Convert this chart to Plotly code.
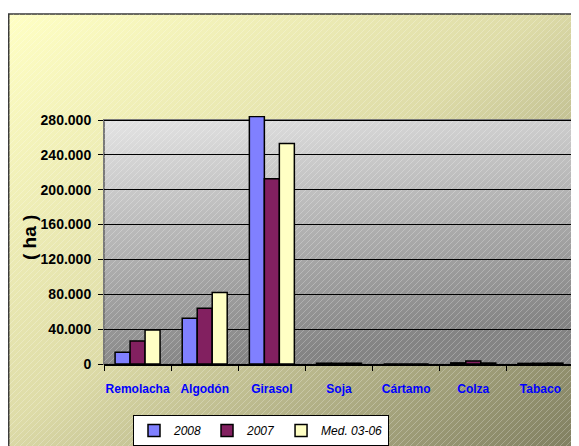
import base64
import plotly.graph_objects as go

categories = ["Remolacha", "Algodón", "Girasol", "Soja", "Cártamo", "Colza", "Tabaco"]
series_names = ["2008", "2007", "Med. 03-06"]
v2008 = [13500, 52500, 284000, 900, 0, 1300, 700]
v2007 = [26500, 64000, 212500, 800, 0, 3500, 800]
vmed = [39000, 82000, 253000, 900, 0, 1100, 1000]
colors = ["#8080FF", "#822060", "#FFFFC4"]
yticks = [0, 40000, 80000, 120000, 160000, 200000, 240000, 280000]

# page body has an 8px margin, so the figure is laid out in (page px - 8)
OFF = 8
W, H = 579 - OFF, 446 - OFF
L, T = 104 - OFF, 116 - OFF
R = W - (574 - OFF)
B = H - (364 - OFF)
PW, PH = W - L - R, H - T - B
ymax = 280000 * PH / 244.0

px0, py0 = 104 - OFF, 120 - OFF
svg = f'''<svg xmlns="http://www.w3.org/2000/svg" width="{W}" height="{H}" viewBox="0 0 {W} {H}" preserveAspectRatio="none">
<defs>
<linearGradient id="ca" x1="0" y1="0" x2="1" y2="1">
<stop offset="0" stop-color="#FFFFC4"/><stop offset="0.45" stop-color="#DEDCA8"/><stop offset="1" stop-color="#77765A"/>
</linearGradient>
<linearGradient id="pa" x1="0" y1="0" x2="0.25" y2="1">
<stop offset="0" stop-color="#E4E4E4"/><stop offset="1" stop-color="#848484"/>
</linearGradient>
<pattern id="h" width="6" height="6" patternUnits="userSpaceOnUse">
<path d="M-1,7 L7,-1" stroke="#ffffff" stroke-opacity="0.35" stroke-width="0.7"/>
</pattern>
</defs>
<rect x="0.75" y="{14 - OFF}" width="{W + 20}" height="{H + 20}" fill="url(#ca)" stroke="#3a3a3a" stroke-width="1.5"/>
<rect x="0.75" y="{14 - OFF}" width="{W + 20}" height="{H + 20}" fill="url(#h)"/>
<rect x="{px0}" y="{py0}" width="470" height="244" fill="url(#pa)" stroke="#7a7a7a" stroke-width="2"/>
<rect x="{px0}" y="{py0}" width="470" height="244" fill="url(#h)"/>
</svg>'''
src = "data:image/svg+xml;base64," + base64.b64encode(svg.encode()).decode()

FONT = "Arial, Liberation Sans, sans-serif"

fig = go.Figure()
for name, vals, c in zip(series_names, [v2008, v2007, vmed], colors):
    fig.add_trace(go.Bar(
        x=categories, y=vals, name=name,
        marker=dict(color=c, line=dict(color="black", width=1.5)),
    ))

fig.update_layout(
    width=W, height=H,
    margin=dict(l=L, r=R, t=T, b=B, autoexpand=False),
    paper_bgcolor="white",
    plot_bgcolor="rgba(0,0,0,0)",
    separators=",.",
    barmode="group",
    bargap=0.33,
    bargroupgap=0,
    showlegend=True,
    legend=dict(
        orientation="h",
        x=(133 - 104) / PW, xanchor="left",
        y=1 - (415 - 116) / PH, yanchor="top",
        bgcolor="white", bordercolor="black", borderwidth=1,
        font=dict(family=FONT, size=12, color="black", style="italic"),
        itemwidth=30,
        traceorder="normal",
    ),
    images=[dict(
        source=src, xref="paper", yref="paper",
        x=-L / PW, y=1 + T / PH, sizex=W / PW, sizey=H / PH,
        xanchor="left", yanchor="top", sizing="stretch", layer="below",
    )],
    annotations=[dict(
        text="( ha )", xref="paper", yref="paper",
        x=(29 - 104) / PW, y=1 - (238 - 116) / PH,
        xanchor="center", yanchor="middle",
        showarrow=False, textangle=-90,
        font=dict(family=FONT, size=19, color="black", weight="bold"),
    )],
)

fig.update_xaxes(
    type="category",
    showline=True, linecolor="black", linewidth=1.5,
    ticks="outside", tickson="boundaries", ticklen=5, tickcolor="black", tickwidth=1,
    tickangle=0,
    tickfont=dict(family=FONT, size=12, color="#0000FF", weight="bold"),
    ticklabelstandoff=13,
    showgrid=False,
)
fig.update_yaxes(
    range=[0, ymax],
    tickvals=yticks,
    tickformat=",d",
    showgrid=True, gridcolor="black", gridwidth=1,
    zeroline=False, showline=False,
    ticks="outside", ticklen=5, tickcolor="black", tickwidth=1,
    ticklabelstandoff=4,
    tickfont=dict(family=FONT, size=14, color="black", weight="bold"),
)

fig.write_html("out.html")
